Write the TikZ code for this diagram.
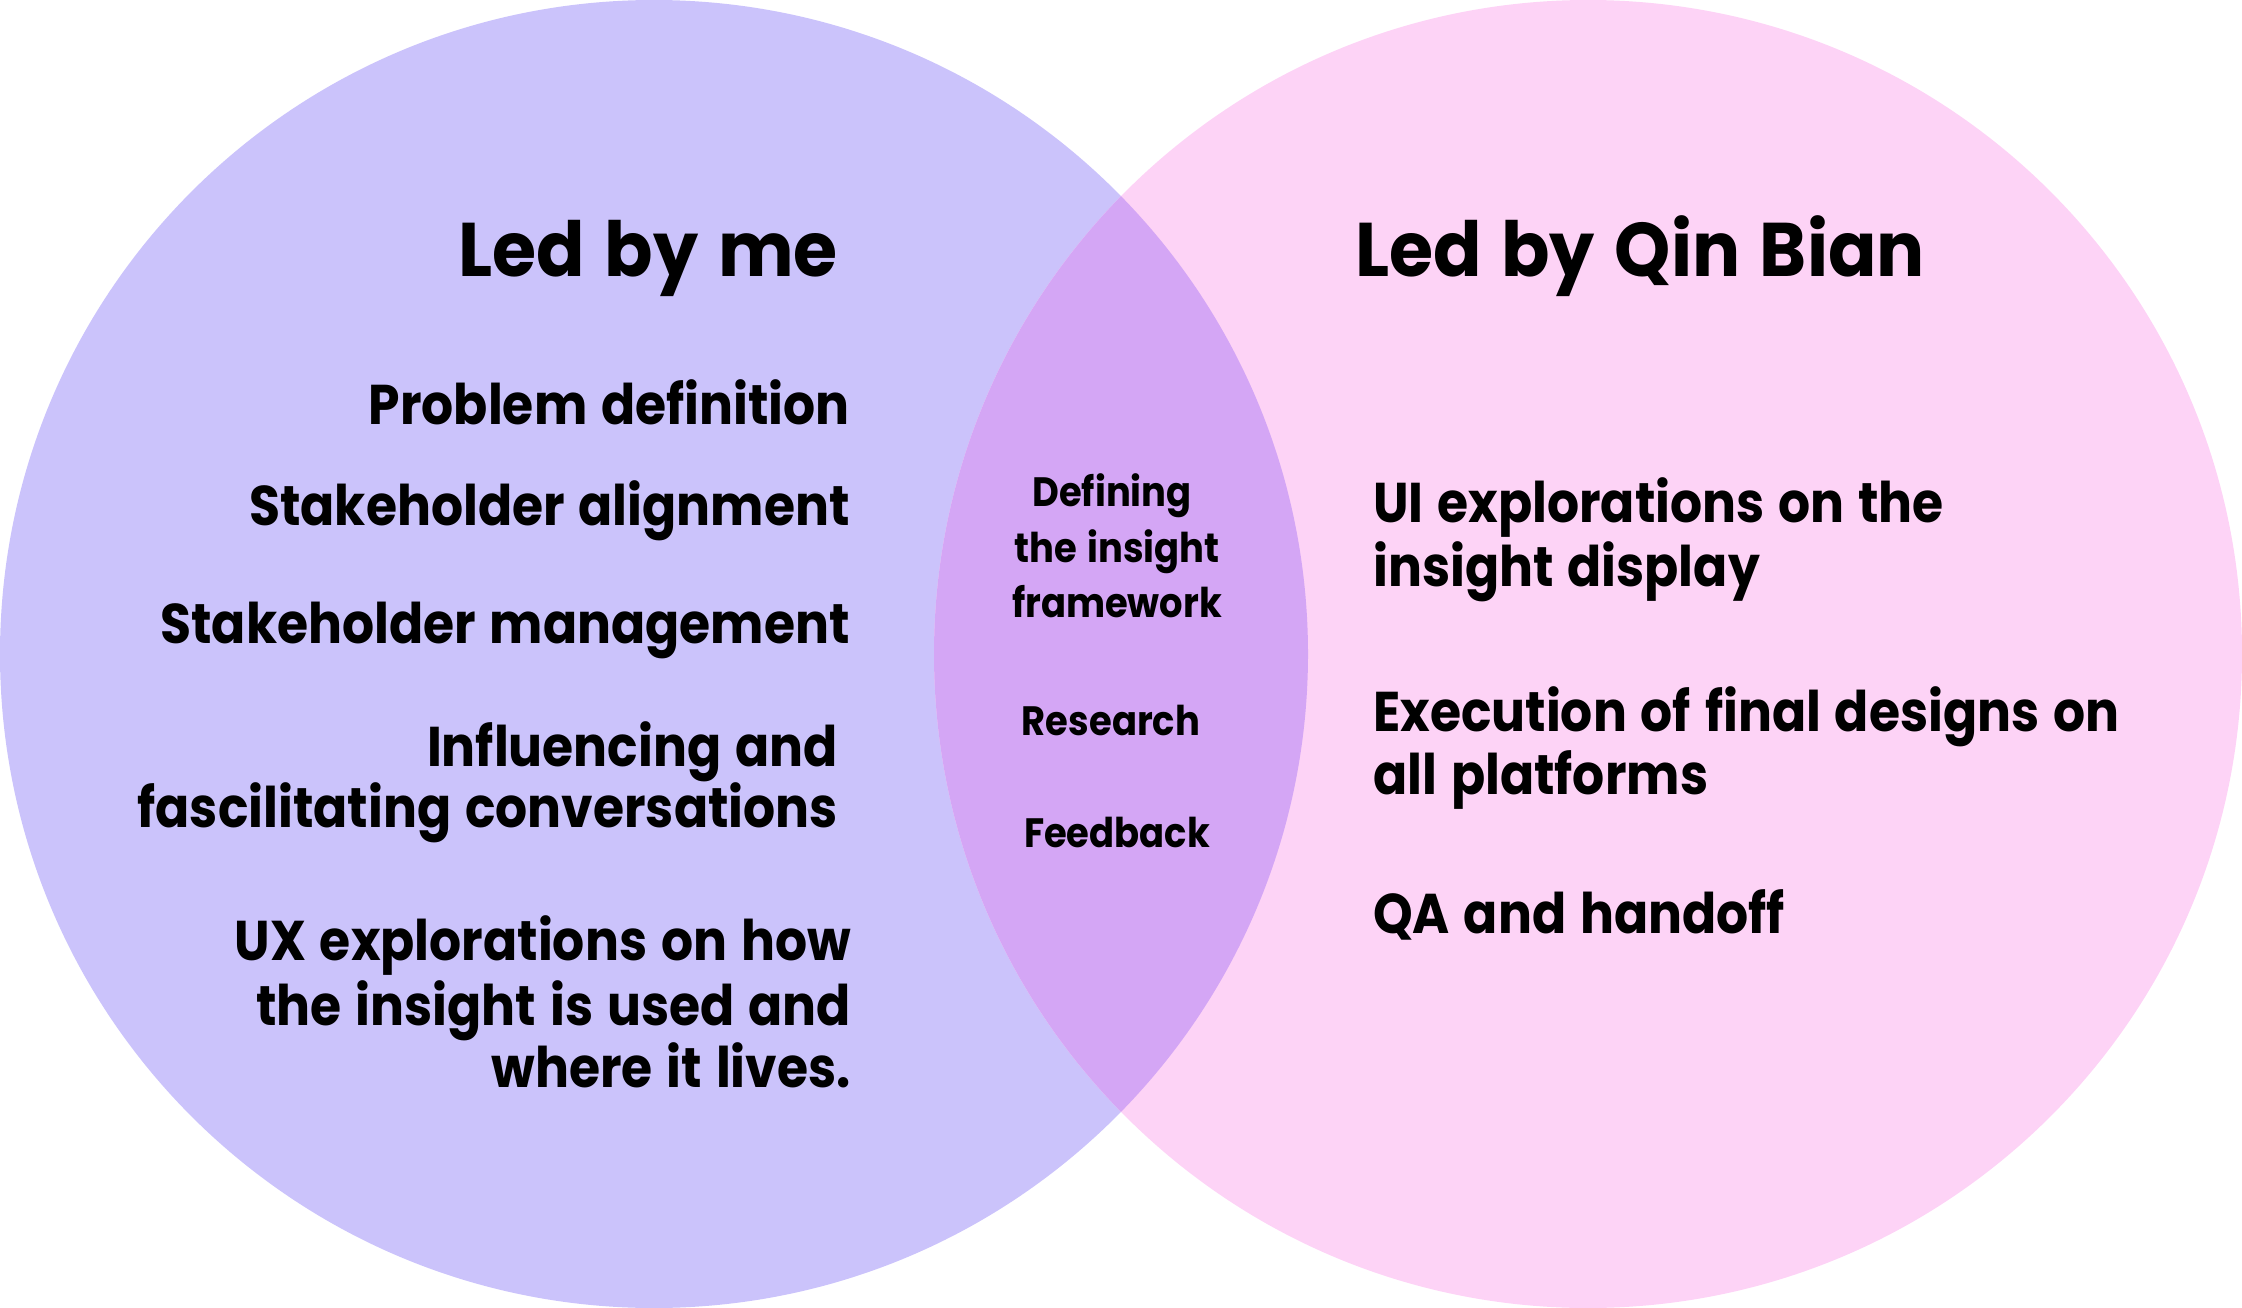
\documentclass[tikz,border=0pt]{standalone}
\usepackage{fontspec}
\setmainfont{Poppins}[UprightFont=* Bold, FakeStretch=0.9, WordSpace=1.3]
\newfontfamily\titlefont{Poppins}[UprightFont=* Bold, FakeStretch=0.94, WordSpace=1.3]
\definecolor{lav}{HTML}{CBC3FB}
\definecolor{pinkc}{HTML}{FDD3F6}
\definecolor{lens}{HTML}{D4A6F5}
\tikzset{
  item/.style={inner sep=0pt, font=\fontsize{56}{64}\selectfont},
  ttl/.style={inner sep=0pt, font=\titlefont\fontsize{76}{86}\selectfont},
  mid/.style={inner sep=0pt, font=\fontsize{41}{48}\selectfont, anchor=base},
  li/.style={item, anchor=base east},
  ri/.style={item, anchor=base west}
}
\begin{document}
\begin{tikzpicture}[x=1pt,y=-1pt]
\useasboundingbox (0,0) rectangle (2242,1308);
\fill[lav] (654,654) circle (654pt);
\fill[pinkc] (1588,654) circle (654pt);
\begin{scope}
  \clip (654,654) circle (654pt);
  \fill[lens] (1588,654) circle (654pt);
\end{scope}
% titles
\node[ttl, anchor=base east] (t1) at (838,276) {Led by me};
\node[ttl, anchor=base west] (t2) at (1355,276) {Led by Qin Bian};
% left items
\node[li] (a1) at (850,424) {Problem definition};
\node[li] (a2) at (850,525) {Stakeholder alignment};
\node[li] (a3) at (850,643) {Stakeholder management};
\node[li] (a4) at (838,766) {Influencing and};
\node[li] (a5) at (838,827) {fascilitating conversations};
\node[li] (a6) at (851,960) {UX explorations on how};
\node[li] (a7) at (851,1025) {the insight is used and};
\node[li] (a8) at (851,1087) {where it lives.};
% right items
\node[ri] (b1) at (1373,522) {UI explorations on the};
\node[ri] (b2) at (1373,586) {insight display};
\node[ri] (b3) at (1373,731) {Execution of final designs on};
\node[ri] (b4) at (1373,794) {all platforms};
\node[ri] (b5) at (1373,933) {QA and handoff};
% middle
\node[mid] (m1) at (1112,506) {Defining};
\node[mid] (m2) at (1117,562) {the insight};
\node[mid] (m3) at (1117,617) {framework};
\node[mid] (m4) at (1111,735) {Research};
\node[mid] (m5) at (1117,847) {Feedback};
\end{tikzpicture}
\end{document}
